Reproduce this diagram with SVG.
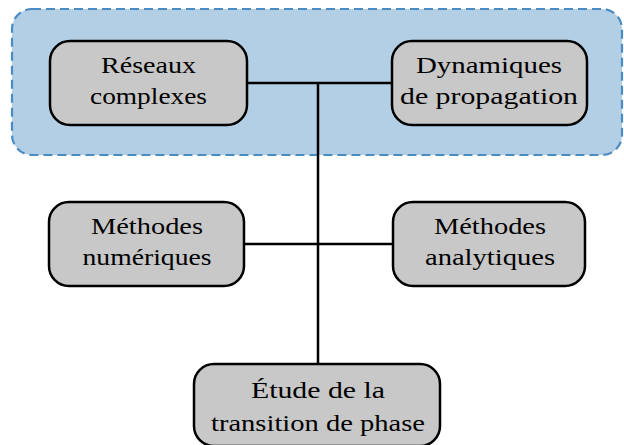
<svg xmlns="http://www.w3.org/2000/svg" width="624" height="445" viewBox="0 0 624 445">
<style>
.box{fill:#c8c8c8;stroke:#000;stroke-width:2.5}
.t{font-family:"Liberation Serif","Times New Roman",serif;font-size:24px;text-anchor:middle;fill:#000}
.c{stroke:#000;stroke-width:2.5;fill:none}
</style>
<rect x="12" y="9" width="610" height="146" rx="20" fill="#b3cfe5" stroke="#4a8bc2" stroke-width="2.2" stroke-dasharray="9,5"/>
<g id="connectors">
<line class="c" x1="247" y1="83" x2="392" y2="83"/>
<line class="c" x1="244" y1="244" x2="393" y2="244"/>
<line class="c" x1="318" y1="83" x2="318" y2="364"/>
</g>
<g id="reseaux">
<rect class="box" x="50" y="41" width="197" height="84" rx="20"/>
<text class="t" x="148.5" y="73" textLength="95" lengthAdjust="spacingAndGlyphs">Réseaux</text>
<text class="t" x="148.5" y="104" textLength="117" lengthAdjust="spacingAndGlyphs">complexes</text>
</g>
<g id="dynamiques">
<rect class="box" x="392" y="41" width="195" height="84" rx="20"/>
<text class="t" x="489" y="73" textLength="146" lengthAdjust="spacingAndGlyphs">Dynamiques</text>
<text class="t" x="489" y="104" textLength="178" lengthAdjust="spacingAndGlyphs">de propagation</text>
</g>
<g id="numeriques">
<rect class="box" x="49" y="202" width="195" height="84" rx="20"/>
<text class="t" x="147" y="234" textLength="112" lengthAdjust="spacingAndGlyphs">Méthodes</text>
<text class="t" x="147" y="265" textLength="129" lengthAdjust="spacingAndGlyphs">numériques</text>
</g>
<g id="analytiques">
<rect class="box" x="393" y="202" width="192" height="84" rx="20"/>
<text class="t" x="490" y="234" textLength="112" lengthAdjust="spacingAndGlyphs">Méthodes</text>
<text class="t" x="490" y="265" textLength="130" lengthAdjust="spacingAndGlyphs">analytiques</text>
</g>
<g id="etude">
<rect class="box" x="194" y="364" width="246" height="82" rx="20"/>
<text class="t" x="318" y="398" textLength="134" lengthAdjust="spacingAndGlyphs">Étude de la</text>
<text class="t" x="318" y="431" textLength="214" lengthAdjust="spacingAndGlyphs">transition de phase</text>
</g>
</svg>
